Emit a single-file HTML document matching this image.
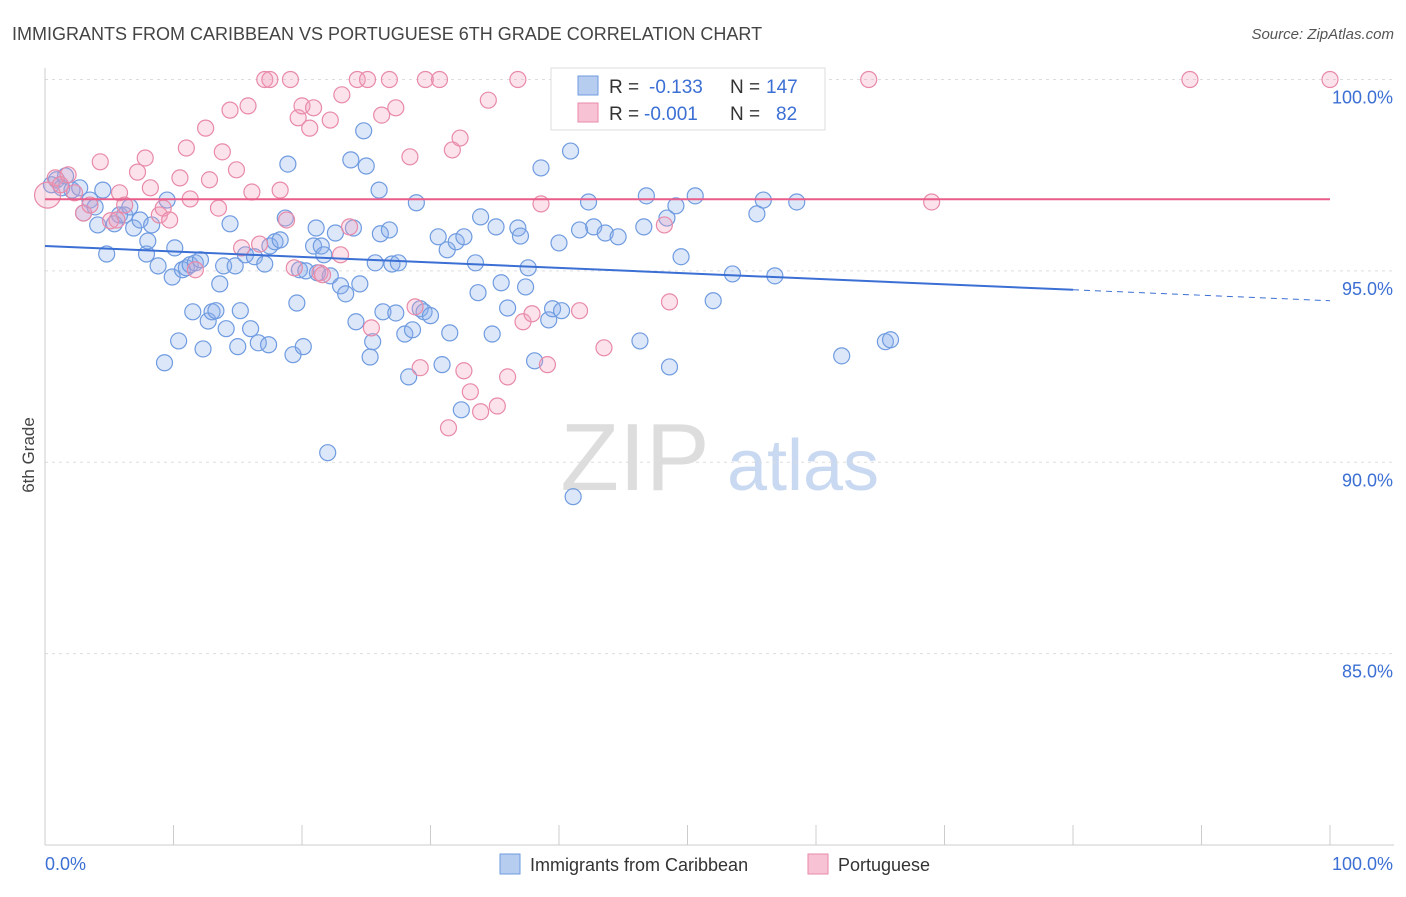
<!DOCTYPE html>
<html><head><meta charset="utf-8"><style>
body{margin:0;background:#fff;font-family:"Liberation Sans",sans-serif}
svg text{font-family:"Liberation Sans",sans-serif}
</style></head><body>
<svg id="chart" width="1406" height="892" viewBox="0 0 1406 892" xmlns="http://www.w3.org/2000/svg">
<text x="12" y="40" font-size="18" fill="#444">IMMIGRANTS FROM CARIBBEAN VS PORTUGUESE 6TH GRADE CORRELATION CHART</text>
<text x="1394" y="39" font-size="15" fill="#555" font-style="italic" text-anchor="end">Source: ZipAtlas.com</text>
<g>
<text x="635" y="490" font-size="96" font-family="Liberation Serif" fill="#ddd" text-anchor="middle">ZIP</text>
<text x="803" y="490" font-size="72" fill="#c9d9f1" text-anchor="middle">atlas</text>
</g>
<g id="grid"></g>
<g id="axes"></g>
<g id="points"></g>
<g id="trends"></g>
<text transform="translate(34,455) rotate(-90)" font-size="17" fill="#444" text-anchor="middle">6th Grade</text>
<g>
<rect x="551" y="68" width="274" height="62" fill="#fff" stroke="#ddd"/>
<rect x="578" y="76" width="20" height="19" fill="#b7cdf0" stroke="#6f9be0"/>
<rect x="578" y="103" width="20" height="19" fill="#f7c2d3" stroke="#e88aa8"/>
<text x="609" y="93" font-size="19" fill="#333">R = <tspan fill="#3b6fd4" x="649">-0.133</tspan><tspan x="730">N =</tspan><tspan fill="#3b6fd4" x="766">147</tspan></text>
<text x="609" y="120" font-size="19" fill="#333">R = <tspan fill="#3b6fd4" x="644">-0.001</tspan><tspan x="730">N =</tspan><tspan fill="#3b6fd4" x="776">82</tspan></text>
</g>
<g>
<rect x="500" y="854" width="20" height="20" fill="#b7cdf0" stroke="#6f9be0"/>
<text x="530" y="871" font-size="18" fill="#333">Immigrants from Caribbean</text>
<rect x="808" y="854" width="20" height="20" fill="#f7c2d3" stroke="#e88aa8"/>
<text x="838" y="871" font-size="18" fill="#333">Portuguese</text>
</g>
</svg>
<script>
const yTicks=[100,95,90,85];
const yTickLabels=["100.0%","95.0%","90.0%","85.0%"];
const xTickLabels=["0.0%","100.0%"];
const blueX=[0.5,0.9,1.3,1.6,2.1,2.7,3.0,3.5,3.9,4.1,4.5,4.8,5.4,5.8,6.2,6.6,6.9,7.4,7.9,8.0,8.3,8.8,9.3,9.5,9.9,10.1,10.4,10.7,11.0,11.3,11.5,11.7,12.1,12.3,12.7,13.0,13.3,13.6,13.9,14.1,14.4,14.8,15.0,15.2,15.6,16.0,16.3,16.6,17.1,17.4,17.5,17.9,18.3,18.7,18.9,19.3,19.6,19.8,20.1,20.3,20.9,21.1,21.2,21.5,21.7,22.0,22.2,22.6,23.0,23.4,23.8,24.0,24.2,24.5,24.8,25.0,25.3,25.5,25.7,26.0,26.1,26.3,26.8,27.0,27.3,27.5,28.0,28.3,28.6,28.9,29.2,29.5,30.0,30.6,30.9,31.3,31.5,32.0,32.4,32.6,33.5,33.7,33.9,34.8,35.1,35.5,36.0,36.8,37.0,37.4,37.6,38.1,38.6,39.2,39.5,40.0,40.2,40.9,41.1,41.6,42.3,42.7,43.6,44.6,46.3,46.6,46.8,48.4,48.6,49.1,49.5,50.6,52.0,53.5,54.6,55.4,55.9,56.8,58.5,62.0,65.4,65.8];
const blueY=[97.25,97.38,97.17,97.48,97.11,97.17,96.51,96.85,96.67,96.20,97.11,95.44,96.23,96.46,96.46,96.67,96.12,96.33,95.44,95.78,96.20,95.13,92.60,96.85,94.84,95.60,93.17,95.03,95.08,95.16,93.93,95.21,95.29,92.96,93.69,93.93,93.96,94.66,95.13,93.49,96.23,95.13,93.02,93.96,95.42,93.49,95.37,93.12,95.18,93.07,95.65,95.76,95.81,96.38,97.79,92.81,94.16,95.03,93.02,95.00,95.65,96.12,94.95,95.65,95.42,90.25,94.87,95.99,94.61,94.40,97.90,96.12,93.67,94.66,98.66,97.74,92.75,93.15,95.21,97.11,95.97,93.93,96.07,95.18,93.90,95.21,93.35,92.23,93.46,96.78,94.01,93.93,93.83,95.89,92.55,95.55,93.38,95.76,91.37,95.89,95.21,94.43,96.41,93.35,96.15,94.69,94.03,96.12,95.91,94.58,95.08,92.65,97.69,93.72,94.01,95.73,93.96,98.13,89.10,96.07,96.80,96.15,95.99,95.89,93.17,96.15,96.96,96.38,92.49,96.70,95.37,96.96,94.22,94.92,100.0,96.49,96.85,94.87,96.80,92.78,93.15,93.20];
const pinkX=[0.2,0.8,1.2,1.8,2.3,3.0,3.5,4.3,5.1,5.6,5.8,6.2,7.2,7.8,8.2,8.9,9.2,9.7,10.5,11.0,11.3,11.7,12.5,12.8,13.5,13.8,14.4,14.9,15.3,15.8,16.1,16.7,17.1,17.5,18.3,18.8,19.1,19.4,19.7,20.0,20.6,20.9,21.4,21.6,22.2,23.0,23.1,23.7,24.3,25.1,25.4,26.2,26.8,27.3,28.4,28.8,29.2,29.6,30.7,31.4,31.7,32.3,32.6,33.1,33.9,34.5,35.2,36.0,36.8,37.2,37.9,38.6,39.1,41.6,43.5,48.2,48.6,64.1,69.0,89.1,100.0];
const pinkY=[96.98,97.43,97.25,97.51,97.04,96.51,96.72,97.85,96.31,96.33,97.04,96.72,97.58,97.95,97.17,96.46,96.64,96.33,97.43,98.21,96.88,95.03,98.73,97.38,96.64,98.11,99.20,97.64,95.60,99.31,97.06,95.70,100.0,100.0,97.11,96.33,100.0,95.08,99.00,99.31,98.73,99.26,94.95,94.90,98.94,95.42,99.60,96.15,100.0,100.0,93.51,99.07,100.0,99.26,97.98,94.06,92.47,100.0,100.0,90.90,98.16,98.47,92.39,91.84,91.32,99.46,91.47,92.23,100.0,93.67,93.88,96.75,92.55,93.96,92.99,96.20,94.19,100.0,96.80,100.0,100.0];
const blueTrend=[95.65,94.22];
const pinkTrend=[96.87,96.87];
const NS="http://www.w3.org/2000/svg";
const X0=45,X1=1330,YTOP=79.5,YBOT=845;
function sx(v){return X0+(X1-X0)*v/100;}
function sy(v){return YBOT-(YBOT-YTOP)*(v-80)/20;}
function mk(tag,attrs,parent){const e=document.createElementNS(NS,tag);for(const k in attrs)e.setAttribute(k,attrs[k]);parent.appendChild(e);return e;}
const grid=document.getElementById('grid'),axes=document.getElementById('axes'),pts=document.getElementById('points'),tr=document.getElementById('trends');
yTicks.forEach((t,i)=>{
 const l=mk('line',{x1:X0,x2:1394,y1:sy(t),y2:sy(t),stroke:'#ddd','stroke-dasharray':'3,4'},grid);
 
 
 const tx=mk('text',{x:1393,y:sy(t)+24,'font-size':18,fill:'#3b6fd4','text-anchor':'end'},axes);
 tx.textContent=yTickLabels[i];
 
 
});
const yl=mk('line',{x1:X0,x2:X0,y1:68,y2:YBOT,stroke:'#ccc'},axes);


const xl=mk('line',{x1:X0,x2:1394,y1:YBOT,y2:YBOT,stroke:'#ccc'},axes);


for(let i=0;i<=10;i++){
 const t=mk('line',{x1:sx(i*10),x2:sx(i*10),y1:825,y2:YBOT,stroke:'#ccc'},axes);
 
 
}
[[0,'start',45],[100,'end',1393]].forEach((d,i)=>{
 const t=mk('text',{x:d[2],y:870,'font-size':18,fill:'#3b6fd4','text-anchor':d[1]},axes);
 t.textContent=xTickLabels[i];
 
 
});
blueX.forEach((x,i)=>{
 const c=mk('circle',{cx:sx(x),cy:sy(blueY[i]),r:8,fill:'rgba(140,175,235,0.3)',stroke:'#6f9be0','stroke-width':1.2},pts);
 
 
});
pinkX.forEach((x,i)=>{
 const c=mk('circle',{cx:sx(x),cy:sy(pinkY[i]),r:i===0?13:8,fill:'rgba(242,160,188,0.3)',stroke:'#e88aa8','stroke-width':1.2},pts);
 
 
});
function tv(a,x){return a[0]+(a[1]-a[0])*x/100;}
const b1=mk('line',{x1:sx(0),y1:sy(tv(blueTrend,0)),x2:sx(80),y2:sy(tv(blueTrend,80)),stroke:'#3b6fd4','stroke-width':2},tr);


const b2=mk('line',{x1:sx(80),y1:sy(tv(blueTrend,80)),x2:sx(100),y2:sy(tv(blueTrend,100)),stroke:'#3b6fd4','stroke-width':1,'stroke-dasharray':'6,5'},tr);


const p1=mk('line',{x1:sx(0),y1:sy(tv(pinkTrend,0)),x2:sx(100),y2:sy(tv(pinkTrend,100)),stroke:'#e85d8a','stroke-width':2},tr);


</script>
</body></html>
